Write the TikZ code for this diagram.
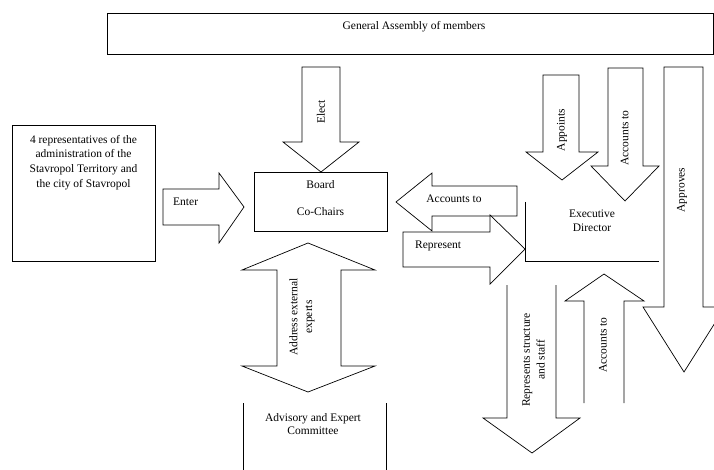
\documentclass[tikz,border=0pt]{standalone}
\usepackage{fontspec}
\setmainfont{Liberation Serif}
\begin{document}
\begin{tikzpicture}[x=1pt,y=-1pt,
  blk/.style={draw=black,line width=0.7pt,fill=white,line join=miter},
  edge/.style={draw=black,line width=0.7pt},
  lbl/.style={inner sep=0pt,font=\fontsize{11.5}{14.7}\selectfont},
  vlbl/.style={lbl,rotate=90,anchor=center,align=center}]
\useasboundingbox (0,0) rectangle (714,470);
\clip (0,0) rectangle (714,470);

% General Assembly of members
\draw[blk] (107,13) rectangle (713,54);
\node[lbl,anchor=base] (ga) at (414,30) {General Assembly of members};

% left box: representatives
\draw[blk] (12,125) rectangle (155,261);
\node[lbl,anchor=north,align=center] (rep) at (83.5,135)
  {4 representatives of the\\administration of the\\Stavropol Territory and\\the city of Stavropol};

% Board box
\draw[blk] (254,172) rectangle (387,231);
\node[lbl,anchor=base] (board) at (320.5,189) {Board};
\node[lbl,anchor=base] (cochairs) at (320.5,216) {Co-Chairs};

% Elect arrow (down)
\draw[blk] (302,67) -- (340,67) -- (340,142) -- (359,142) -- (321,172) -- (283,142) -- (302,142) -- cycle;
\node[vlbl] (elect) at (321,112) {Elect};

% Enter arrow (right)
\draw[blk] (163,189) -- (219,189) -- (219,173) -- (244,207) -- (219,243) -- (219,225) -- (163,225) -- cycle;
\node[lbl,anchor=base west] (enter) at (173,206) {Enter};

% Accounts to arrow (left)
\draw[blk] (517,186) -- (432,186) -- (432,173) -- (396,202) -- (432,231) -- (432,216) -- (517,216) -- cycle;
\node[lbl,anchor=base] (acc1) at (454,203) {Accounts to};

% Represent arrow (right)
\draw[blk] (403,232) -- (490,232) -- (490,215) -- (525,249) -- (490,284) -- (490,267) -- (403,267) -- cycle;
\node[lbl,anchor=base west] (repr) at (415,248) {Represent};

% Executive Director
\draw[edge] (525,202) -- (525,261) -- (659,261);
\node[lbl,anchor=base] (exec1) at (592,218) {Executive};
\node[lbl,anchor=base] (exec2) at (592,232) {Director};

% Appoints arrow (down)
\draw[blk] (543,75) -- (579,75) -- (579,152) -- (598,152) -- (562,180) -- (526,152) -- (543,152) -- cycle;
\node[vlbl] (appoints) at (562,130) {Appoints};

% Accounts to arrow (down)
\draw[blk] (608,68) -- (643,68) -- (643,166) -- (659,166) -- (625,201) -- (591,166) -- (608,166) -- cycle;
\node[vlbl] (acc2) at (624.5,138) {Accounts to};

% Approves arrow (down)
\draw[blk] (664,67) -- (703,67) -- (703,307) -- (725,307) -- (684,372) -- (643,307) -- (664,307) -- cycle;
\node[vlbl] (approves) at (682,190) {Approves};

% Address external experts (double arrow)
\draw[blk] (308,243) -- (375,270) -- (341,270) -- (341,366) -- (375,366) -- (308,392) -- (242,366) -- (277,366) -- (277,270) -- (242,270) -- cycle;
\node[vlbl] (addr) at (302,317) {Address external\\experts};

% Advisory and Expert Committee
\draw[edge] (243,403) -- (243,470);
\draw[edge] (386,403) -- (386,470);
\node[lbl,anchor=base] (adv1) at (313,421) {Advisory and Expert};
\node[lbl,anchor=base] (adv2) at (313,434) {Committee};

% Represents structure and staff (down, open top)
\draw[edge] (507,285) -- (507,418) -- (483,418) -- (532,453) -- (580,418) -- (556,418) -- (556,285);
\node[vlbl] (rss) at (533.5,360) {Represents structure\\and staff};

% Accounts to (up, open bottom)
\draw[edge] (584,403) -- (584,301) -- (565,301) -- (604,274) -- (644,301) -- (624,301) -- (624,403);
\node[vlbl] (acc3) at (603,345) {Accounts to};
\end{tikzpicture}
\end{document}
